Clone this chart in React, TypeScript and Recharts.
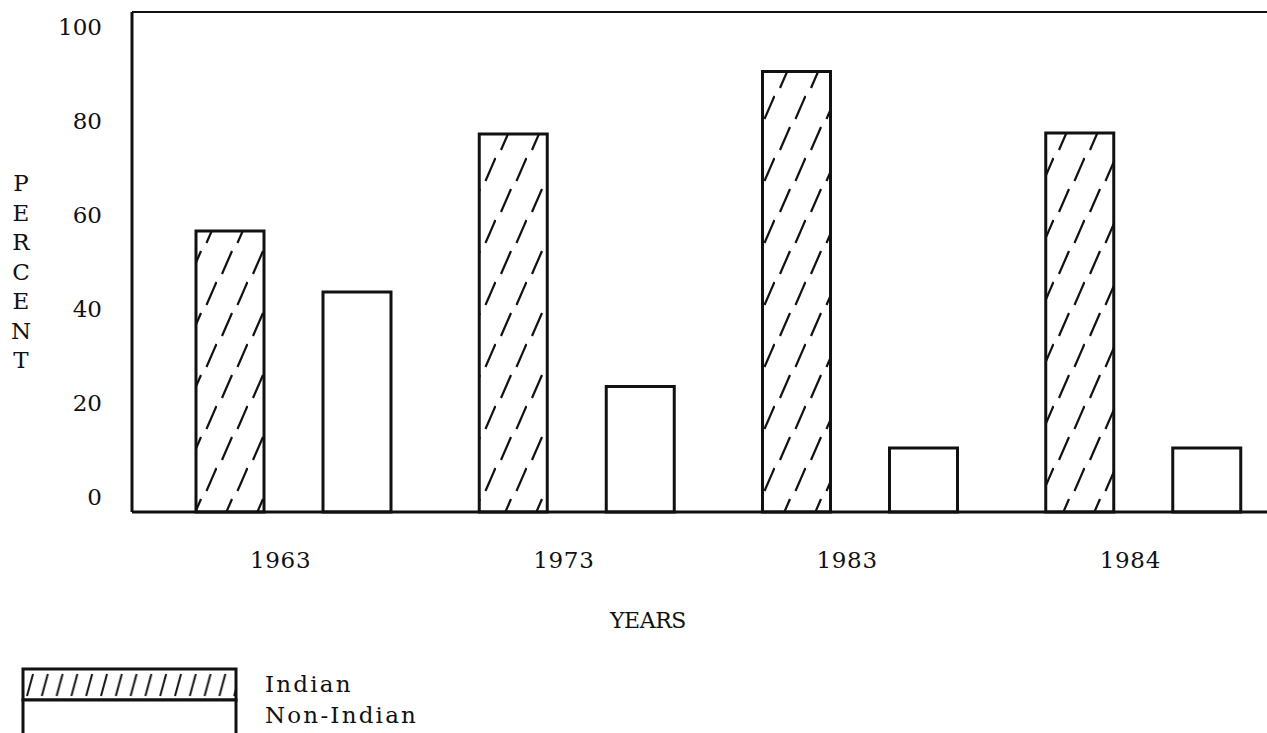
import { BarChart, Bar, XAxis, YAxis, ReferenceLine, Legend, Label } from 'recharts';

const years = ['1963', '1973', '1983', '1984'];
const indianPct = [56.2, 75.6, 88.1, 75.8];
const nonIndianPct = [44.0, 25.1, 12.8, 12.8];
const percentTicks = [0, 20, 40, 60, 80, 100];
const yTitleLetters = ['P', 'E', 'R', 'C', 'E', 'N', 'T'];

const data = years.map((year, i) => ({ year, indian: indianPct[i], nonIndian: nonIndianPct[i] }));

const typeFont = '"DejaVu Serif", "Liberation Serif", serif';
const ink = '#111';

// typed labels sit a little inside the drawn scale (100 below the frame, 0 above the axis)
function PercentTick({ x, y, payload }: any) {
  const shift = -15 + payload.value * 0.3;
  return (
    <text x={x} y={y + shift} dy="0.36em" textAnchor="end" fill={ink} fontFamily={typeFont} fontSize={23}>
      {payload.value}
    </text>
  );
}

function YearTick({ x, y, payload }: any) {
  return (
    <text x={x - 13} y={y + 56} textAnchor="middle" fill={ink} fontFamily={typeFont} fontSize={23} letterSpacing={0.7}>
      {payload.value}
    </text>
  );
}

function PercentTitle() {
  return (
    <text x={21} y={191} textAnchor="middle" fill={ink} fontFamily={typeFont} fontSize={23}>
      {yTitleLetters.map((c, i) => (
        <tspan key={i} x={21} dy={i === 0 ? 0 : 29.5}>{c}</tspan>
      ))}
    </text>
  );
}

function YearsTitle({ viewBox }: any) {
  return (
    <text x={viewBox.x + 516} y={viewBox.y + 116} textAnchor="middle" fill={ink} fontFamily={typeFont} fontSize={22} letterSpacing={-0.4}>
      YEARS
    </text>
  );
}

function LegendKey({ payload }: any) {
  const items = payload ?? [];
  return (
    <div style={{ position: 'relative', width: 460, height: 70 }}>
      <svg width={220} height={70} style={{ position: 'absolute', left: 0, top: 0 }}>
        <defs>
          <pattern id="legendSlash" patternUnits="userSpaceOnUse" width={14.8} height={31} x={4} y={2}>
            <line x1={3} y1={27} x2={9} y2={5} stroke={ink} strokeWidth={2} />
          </pattern>
        </defs>
        <rect x={3} y={2} width={213} height={31} fill="url(#legendSlash)" stroke={ink} strokeWidth={3} />
        <rect x={3} y={33} width={213} height={40} fill="#fff" stroke={ink} strokeWidth={3} />
      </svg>
      <div style={{ position: 'absolute', left: 245, top: 2, fontFamily: typeFont, fontSize: 23, lineHeight: '31px', color: ink, letterSpacing: 2.2 }}>
        {items.map((p: any) => (
          <div key={p.value}>{p.value}</div>
        ))}
      </div>
    </div>
  );
}

export default function App() {
  return (
    <div style={{ position: 'absolute', left: 0, top: 0, width: 1267, height: 733, overflow: 'hidden', background: '#fff' }}>
      <BarChart
        width={1290}
        height={733}
        data={data}
        margin={{ top: 12, right: 5, left: 0, bottom: 161 }}
        barSize={68}
        barGap={59}
      >
        <defs>
          <pattern id="indianHatch" patternUnits="userSpaceOnUse" width={31} height={62}>
            <rect width={31} height={62} fill="#fff" />
            <line x1={5} y1={26} x2={15} y2={3} stroke={ink} strokeWidth={2.2} />
            <line x1={20.5} y1={57} x2={30.5} y2={34} stroke={ink} strokeWidth={2.2} />
          </pattern>
        </defs>
        <XAxis
          dataKey="year"
          height={60}
          padding={{ left: 20, right: 0 }}
          axisLine={{ stroke: ink, strokeWidth: 3 }}
          tickLine={false}
          tickSize={0}
          tickMargin={0}
          tick={<YearTick />}
        >
          <Label content={<YearsTitle />} />
        </XAxis>
        <YAxis
          width={132}
          domain={[0, 100]}
          ticks={percentTicks}
          interval={0}
          axisLine={{ stroke: ink, strokeWidth: 3 }}
          tickLine={false}
          tickSize={0}
          tickMargin={30}
          tick={<PercentTick />}
        >
          <Label content={<PercentTitle />} />
        </YAxis>
        <ReferenceLine y={100} stroke={ink} strokeWidth={2} />
        <Bar dataKey="indian" name="Indian" fill="url(#indianHatch)" stroke={ink} strokeWidth={3} isAnimationActive={false} />
        <Bar dataKey="nonIndian" name="Non-Indian" fill="#fff" stroke={ink} strokeWidth={3} isAnimationActive={false} />
        <Legend
          layout="horizontal"
          verticalAlign="middle"
          align="center"
          wrapperStyle={{ left: 20, top: 667, width: 460, height: 70 }}
          content={<LegendKey />}
        />
      </BarChart>
    </div>
  );
}
